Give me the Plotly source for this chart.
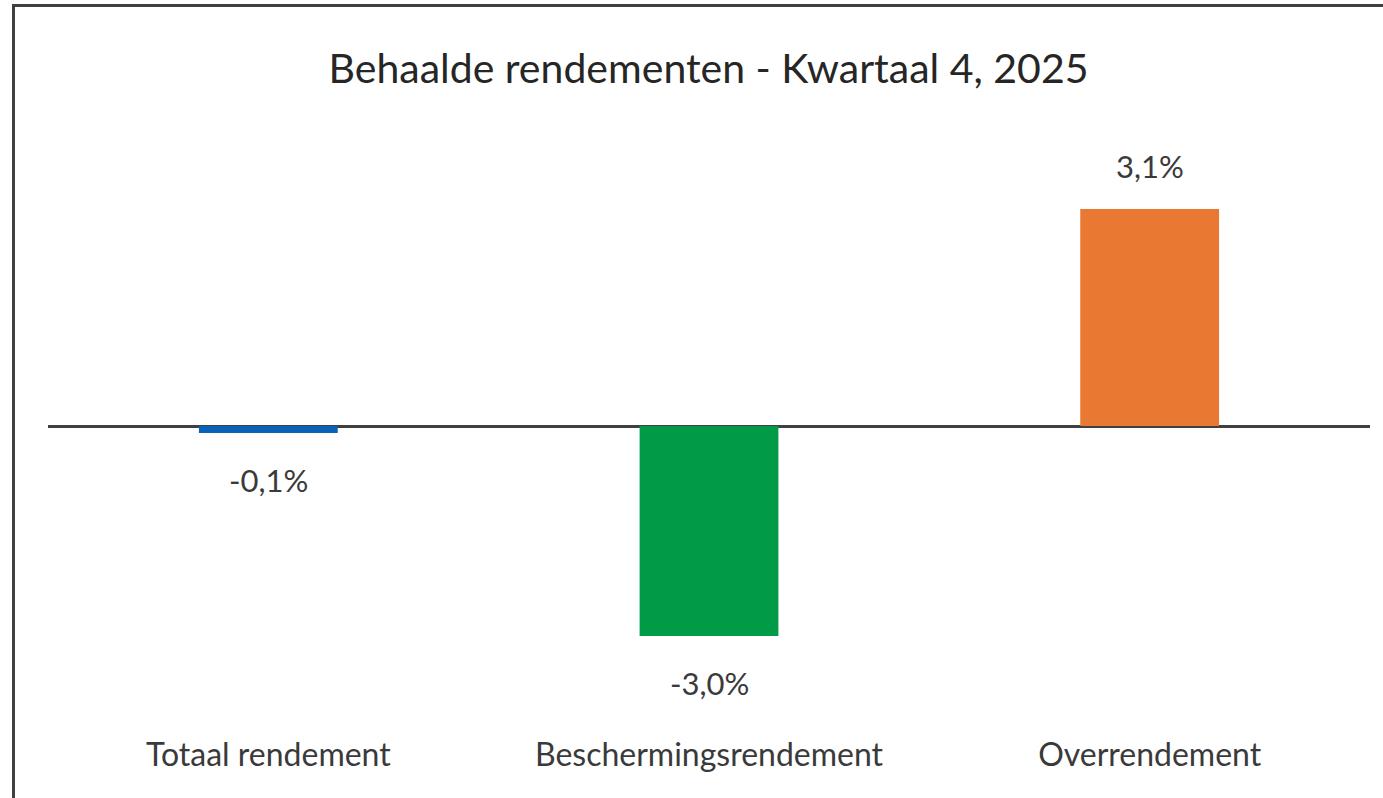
import plotly.graph_objects as go

categories = ["Totaal rendement", "Beschermingsrendement", "Overrendement"]
values = [-0.1, -3.0, 3.1]
labels = ["-0,1%", "-3,0%", "3,1%"]
colors = ["#0762B8", "#019A47", "#E97832"]
title_text = "Behaalde rendementen - Kwartaal 4, 2025"

W, H = 1383, 798
L, R, T, B = 48, 13, 150, 69

fig = go.Figure()
fig.add_trace(go.Bar(
    x=categories, y=values,
    marker=dict(color=colors, line=dict(width=0)),
    width=0.315,
    hoverinfo="skip",
))

font_family = "Lato, 'Open Sans', sans-serif"
txt_color = "#3A3A3A"

for c, v, lab in zip(categories, values, labels):
    fig.add_annotation(
        x=c, y=v, text=lab, showarrow=False,
        yshift=43 if v > 0 else -47,
        font=dict(family=font_family, size=31, color=txt_color),
    )

# outer border (chart frame)
pw = W - L - R
ph = H - T - B
fig.add_shape(
    type="rect", xref="paper", yref="paper",
    x0=(13.5 - L) / pw, x1=(W + 20 - L) / pw,
    y0=-(H + 20 - (T + ph)) / ph, y1=1 + (T - 5.5) / ph,
    line=dict(color="#404040", width=3), fillcolor="rgba(0,0,0,0)",
    layer="above",
)

zero_y = 426
scale = 70.0
fig.update_layout(
    width=W, height=H,
    margin=dict(l=L, r=R, t=T, b=B, pad=0),
    paper_bgcolor="white", plot_bgcolor="white",
    showlegend=False,
    title=dict(
        text=title_text, x=(708.5) / W, xanchor="center",
        y=1 - 69 / H, yanchor="middle", yref="container",
        font=dict(family=font_family, size=41, color="#262626"),
    ),
    xaxis=dict(
        showline=False, showgrid=False, zeroline=False, ticks="",
        tickfont=dict(family=font_family, size=32, color=txt_color),
        ticklabelstandoff=4,
    ),
    yaxis=dict(
        range=[-(H - B - zero_y) / scale, (zero_y - T) / scale],
        showticklabels=False, showgrid=False, ticks="",
        zeroline=True, zerolinecolor="#404040", zerolinewidth=2.5,
        showline=False,
    ),
)

fig.write_html(
    "out.html",
    config={"displayModeBar": False},
    post_script="document.body.style.margin='0';document.body.style.overflow='hidden';",
)
